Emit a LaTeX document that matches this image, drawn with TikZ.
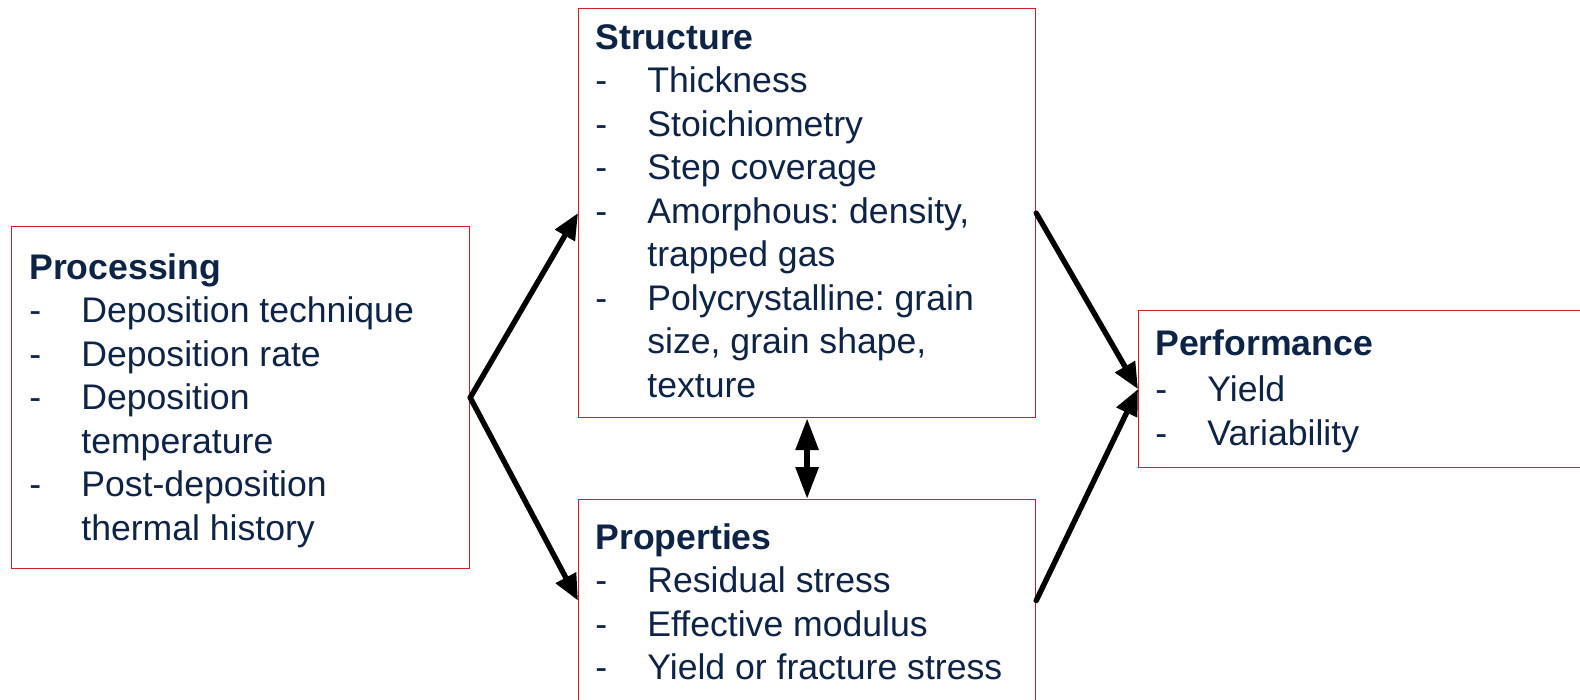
\documentclass[tikz,border=0pt]{standalone}
\usepackage{fontspec}
\setmainfont{Liberation Sans}
\usepackage{tikz}
\usetikzlibrary{arrows.meta}
\definecolor{pnavy}{RGB}{14,36,70}
\definecolor{pred}{RGB}{205,32,38}
\newcommand{\dashitem}[1][26pt]{\makebox[#1][l]{-}}
\newcommand{\dashcont}[1][26pt]{\hspace*{#1}}
\frenchspacing

\begin{document}
\begin{tikzpicture}[x=0.5pt, y=-0.5pt,
  box/.style={draw=pred, line width=0.6pt, anchor=north west, inner sep=0pt},
  txt/.style={anchor=north west, inner sep=0pt, align=left, text=pnavy, font=\fontsize{17.8pt}{21.75pt}\selectfont},
  flow/.style={-{Triangle[length=13pt,width=11pt]}, line width=2.7pt, line cap=round}]
  \useasboundingbox (0,0) rectangle (1580,700);
  \clip (0,0) rectangle (1580,700);

  % frames
  \node[box, minimum width=229pt, minimum height=171pt] (proc) at (11,226) {};
  \node[box, minimum width=228.5pt, minimum height=204.5pt] (struc) at (578,8) {};
  \node[box, minimum width=228.5pt, minimum height=101pt] (prop) at (578,499) {};
  \node[box, minimum width=240pt, minimum height=78.5pt] (perf) at (1138,310) {};

  % lists
  \node[txt] (proc-txt) at (29,253) {\textbf{Processing}\\
    \dashitem Deposition technique\\
    \dashitem Deposition rate\\
    \dashitem Deposition\\
    \dashcont temperature\\
    \dashitem Post-deposition\\
    \dashcont thermal history};
  \node[txt] (struc-txt) at (595,24) {\textbf{Structure}\\
    \dashitem Thickness\\
    \dashitem Stoichiometry\\
    \dashitem Step coverage\\
    \dashitem Amorphous: density,\\
    \dashcont trapped gas\\
    \dashitem Polycrystalline: grain\\
    \dashcont size, grain shape,\\
    \dashcont texture};
  \node[txt] (prop-txt) at (595,523) {\textbf{Properties}\\
    \dashitem Residual stress\\
    \dashitem Effective modulus\\
    \dashitem Yield or fracture stress};
  \node[txt] (perf-txt) at (1155,329) {\textbf{Performance}\\[1.5pt]
    \dashitem Yield\\
    \dashitem Variability};

  % connectors
  \draw[flow] (proc.east) -- (struc.west);
  \draw[flow] (proc.east) -- (prop.west);
  \draw[flow] (struc.east) -- (perf.west);
  \draw[flow] (prop.east) -- (perf.west);
  \draw[{Triangle[length=16pt,width=11pt]}-{Triangle[length=16pt,width=11pt]}, line width=3pt] (struc.south) -- (prop.north);
\end{tikzpicture}
\end{document}
